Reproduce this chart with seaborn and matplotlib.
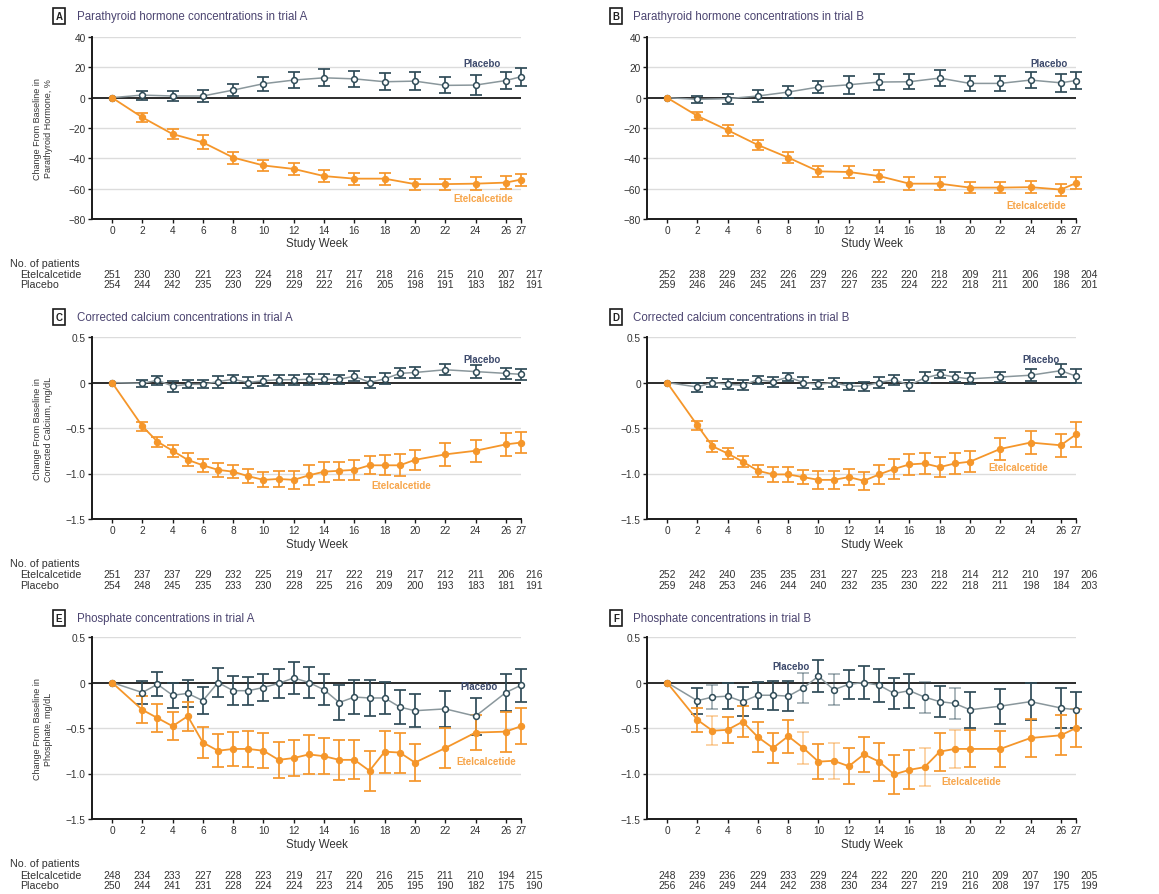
import numpy as np
import pandas as pd
import matplotlib
matplotlib.use("Agg")
import matplotlib.pyplot as plt
import seaborn as sns
from matplotlib.transforms import blended_transform_factory

sns.set_theme(style="white")
plt.rcParams['font.family'] = ['Liberation Sans', 'DejaVu Sans']
plt.rcParams['axes.unicode_minus'] = True

# ---------------- data ----------------
weeks_pth = [0, 2, 4, 6, 8, 10, 12, 14, 16, 18, 20, 22, 24, 26, 27]
weeks_lab = [0, 2, 3, 4, 5, 6, 7, 8, 9, 10, 11, 12, 13, 14, 15, 16, 17, 18, 19, 20, 22, 24, 26, 27]
table_weeks = [0, 2, 4, 6, 8, 10, 12, 14, 16, 18, 20, 22, 24, 26, 27]
xtick_labels = ["0", "2", "4", "6", "8", "10", "12", "14", "16", "18", "20", "22", "24", "26", "27"]

# Panel A: PTH trial A (% change)
a_etel = [0, -13, -24, -29.5, -39.5, -44.7, -47, -51.7, -53.4, -53.4, -57, -57, -56.7, -56, -54]
a_etel_err = [0, 3.0, 3.3, 4.6, 4.0, 3.8, 3.9, 3.8, 4.0, 4.0, 3.6, 3.6, 4.1, 4.5, 4.0]
a_plac = [0, 1.7, 1.1, 1.1, 5, 9.2, 11.6, 13.1, 12.4, 10.5, 10.9, 8.1, 8.3, 11.3, 13.8]
a_plac_err = [0, 3.0, 3.4, 3.8, 3.8, 4.6, 5.0, 5.5, 5.5, 5.5, 6.0, 5.3, 6.5, 5.8, 6.0]

# Panel B: PTH trial B
b_etel = [0, -12, -21.4, -31.2, -39.5, -48.6, -49, -51.7, -56.7, -56.7, -59.3, -59.3, -59, -60.6, -56.3]
b_etel_err = [0, 2.8, 3.6, 3.5, 3.6, 3.6, 3.8, 3.8, 4.1, 4.1, 3.6, 3.8, 3.8, 4.0, 4.1]
b_plac = [0, -1.1, -0.7, 1.1, 3.7, 7.0, 8.5, 10.3, 10.5, 12.9, 9.4, 9.4, 11.6, 9.8, 11.3]
b_plac_err = [0, 2.3, 3.3, 3.7, 3.9, 4.1, 5.8, 5.5, 5.1, 5.1, 5.2, 5.2, 5.5, 5.8, 5.5]

# Panel C: corrected calcium trial A (mg/dL)
c_etel = [0, -0.48, -0.65, -0.75, -0.85, -0.91, -0.96, -0.98, -1.03, -1.07, -1.06, -1.07, -1.02,
          -0.98, -0.97, -0.96, -0.91, -0.91, -0.91, -0.85, -0.79, -0.75, -0.68, -0.66]
c_etel_err = [0, 0.05, 0.055, 0.064, 0.073, 0.07, 0.078, 0.07, 0.076, 0.082, 0.085, 0.095, 0.11,
              0.11, 0.10, 0.11, 0.10, 0.11, 0.12, 0.11, 0.13, 0.12, 0.13, 0.12]
c_plac = [0, -0.01, 0.025, -0.04, -0.02, -0.02, 0.01, 0.035, 0.0, 0.02, 0.03, 0.03, 0.035,
          0.035, 0.035, 0.07, 0.0, 0.04, 0.10, 0.11, 0.14, 0.12, 0.10, 0.09]
c_plac_err = [0, 0.035, 0.05, 0.06, 0.045, 0.045, 0.065, 0.045, 0.06, 0.055, 0.055, 0.055, 0.06,
              0.055, 0.05, 0.055, 0.06, 0.06, 0.055, 0.065, 0.06, 0.07, 0.06, 0.06]

# Panel D: corrected calcium trial B
d_etel = [0, -0.47, -0.70, -0.78, -0.87, -0.97, -1.01, -1.01, -1.04, -1.07, -1.07, -1.04, -1.08,
          -1.01, -0.95, -0.90, -0.89, -0.93, -0.89, -0.87, -0.73, -0.66, -0.69, -0.57]
d_etel_err = [0, 0.05, 0.06, 0.06, 0.06, 0.064, 0.08, 0.08, 0.08, 0.10, 0.10, 0.09, 0.10,
              0.105, 0.11, 0.115, 0.11, 0.11, 0.12, 0.115, 0.125, 0.125, 0.125, 0.136]
d_plac = [0, -0.05, 0.0, -0.02, -0.03, 0.03, 0.01, 0.06, 0.0, -0.02, 0.0, -0.04, -0.04,
          0.0, 0.03, -0.03, 0.05, 0.09, 0.06, 0.04, 0.06, 0.08, 0.13, 0.07]
d_plac_err = [0, 0.05, 0.045, 0.055, 0.053, 0.045, 0.055, 0.042, 0.065, 0.05, 0.045, 0.04, 0.05,
              0.055, 0.053, 0.06, 0.06, 0.045, 0.05, 0.06, 0.055, 0.065, 0.07, 0.08]

# Panel E: phosphate trial A (mg/dL)
e_etel = [0, -0.30, -0.39, -0.48, -0.37, -0.66, -0.75, -0.73, -0.73, -0.75, -0.85, -0.83, -0.79,
          -0.81, -0.85, -0.85, -0.97, -0.76, -0.77, -0.88, -0.72, -0.55, -0.54, -0.48]
e_etel_err = [0, 0.15, 0.155, 0.155, 0.16, 0.175, 0.18, 0.185, 0.20, 0.195, 0.20, 0.20, 0.215,
              0.20, 0.22, 0.215, 0.22, 0.23, 0.22, 0.205, 0.215, 0.195, 0.22, 0.20]
e_plac = [0, -0.11, -0.02, -0.14, -0.12, -0.20, 0.0, -0.09, -0.09, -0.055, -0.01, 0.05, 0.0,
          -0.08, -0.22, -0.16, -0.17, -0.17, -0.27, -0.31, -0.29, -0.37, -0.11, -0.03]
e_plac_err = [0, 0.13, 0.13, 0.135, 0.15, 0.15, 0.16, 0.16, 0.155, 0.15, 0.16, 0.18, 0.165,
              0.17, 0.195, 0.185, 0.195, 0.18, 0.19, 0.18, 0.195, 0.205, 0.205, 0.18]

# Panel F: phosphate trial B
f_etel = [0, -0.41, -0.53, -0.52, -0.43, -0.60, -0.72, -0.59, -0.72, -0.87, -0.86, -0.92, -0.79,
          -0.87, -1.01, -0.96, -0.93, -0.76, -0.73, -0.73, -0.73, -0.61, -0.58, -0.50]
f_etel_err = [0, 0.135, 0.16, 0.145, 0.167, 0.163, 0.163, 0.18, 0.18, 0.19, 0.20, 0.20, 0.195,
              0.21, 0.21, 0.213, 0.205, 0.21, 0.207, 0.204, 0.20, 0.205, 0.218, 0.213]
f_plac = [0, -0.20, -0.16, -0.15, -0.21, -0.14, -0.14, -0.15, -0.06, 0.07, -0.08, -0.02, 0.0,
          -0.03, -0.12, -0.09, -0.16, -0.21, -0.23, -0.30, -0.26, -0.21, -0.28, -0.30]
f_plac_err = [0, 0.145, 0.133, 0.144, 0.16, 0.15, 0.158, 0.167, 0.167, 0.173, 0.171, 0.16, 0.182,
              0.18, 0.173, 0.185, 0.17, 0.173, 0.173, 0.195, 0.193, 0.20, 0.218, 0.195]

# Number of patients tables
a_n_etel = [251, 230, 230, 221, 223, 224, 218, 217, 217, 218, 216, 215, 210, 207, 217]
a_n_plac = [254, 244, 242, 235, 230, 229, 229, 222, 216, 205, 198, 191, 183, 182, 191]
b_n_etel = [252, 238, 229, 232, 226, 229, 226, 222, 220, 218, 209, 211, 206, 198, 204]
b_n_plac = [259, 246, 246, 245, 241, 237, 227, 235, 224, 222, 218, 211, 200, 186, 201]
c_n_etel = [251, 237, 237, 229, 232, 225, 219, 217, 222, 219, 217, 212, 211, 206, 216]
c_n_plac = [254, 248, 245, 235, 233, 230, 228, 225, 216, 209, 200, 193, 183, 181, 191]
d_n_etel = [252, 242, 240, 235, 235, 231, 227, 225, 223, 218, 214, 212, 210, 197, 206]
d_n_plac = [259, 248, 253, 246, 244, 240, 232, 235, 230, 222, 218, 211, 198, 184, 203]
e_n_etel = [248, 234, 233, 227, 228, 223, 219, 217, 220, 216, 215, 211, 210, 194, 215]
e_n_plac = [250, 244, 241, 231, 228, 224, 224, 223, 214, 205, 195, 190, 182, 175, 190]
f_n_etel = [248, 239, 236, 229, 233, 229, 224, 222, 220, 220, 210, 209, 207, 190, 205]
f_n_plac = [256, 246, 249, 244, 242, 238, 230, 234, 227, 219, 216, 208, 197, 175, 199]

titles = ["Parathyroid hormone concentrations in trial A",
          "Parathyroid hormone concentrations in trial B",
          "Corrected calcium concentrations in trial A",
          "Corrected calcium concentrations in trial B",
          "Phosphate concentrations in trial A",
          "Phosphate concentrations in trial B"]
letters = ["A", "B", "C", "D", "E", "F"]
ylabels = ["Change From Baseline in\nParathyroid Hormone, %",
           "Change From Baseline in\nCorrected Calcium, mg/dL",
           "Change From Baseline in\nPhosphate, mg/dL"]
pth_yticks = [40, 20, 0, -20, -40, -60, -80]
pth_ytick_labels = ["40", "20", "0", "\u221220", "\u221240", "\u221260", "\u221280"]
lab_yticks = [0.5, 0, -0.5, -1.0, -1.5]
lab_ytick_labels = ["0.5", "0", "\u22120.5", "\u22121.0", "\u22121.5"]

# ---------------- styles ----------------
ORANGE = "#f5962a"
ORANGE_TXT = "#f7a54a"
PLAC_DARK = "#2f4b57"
PLAC_LINE = "#8a979c"
PLAC_TXT = "#3d4a6c"
TITLE_C = "#4b4470"
TXT = "#333333"

W, H = 1159, 895
fig = plt.figure(figsize=(W / 100, H / 100), dpi=100)
fig.patch.set_facecolor("white")

def fx(px):
    return px / W

def fy(py):
    return 1 - py / H

panels = [
    dict(weeks=weeks_pth, etel=a_etel, eerr=a_etel_err, plac=a_plac, perr=a_plac_err,
         ne=a_n_etel, np_=a_n_plac, ylim=(-80, 40), yt=pth_yticks, ytl=pth_ytick_labels,
         plab=(24.4, 23), elab=(24.5, -66), faded=[]),
    dict(weeks=weeks_pth, etel=b_etel, eerr=b_etel_err, plac=b_plac, perr=b_plac_err,
         ne=b_n_etel, np_=b_n_plac, ylim=(-80, 40), yt=pth_yticks, ytl=pth_ytick_labels,
         plab=(25.2, 23), elab=(24.4, -71), faded=[]),
    dict(weeks=weeks_lab, etel=c_etel, eerr=c_etel_err, plac=c_plac, perr=c_plac_err,
         ne=c_n_etel, np_=c_n_plac, ylim=(-1.5, 0.5), yt=lab_yticks, ytl=lab_ytick_labels,
         plab=(24.4, 0.26), elab=(19.1, -1.13), faded=[]),
    dict(weeks=weeks_lab, etel=d_etel, eerr=d_etel_err, plac=d_plac, perr=d_plac_err,
         ne=d_n_etel, np_=d_n_plac, ylim=(-1.5, 0.5), yt=lab_yticks, ytl=lab_ytick_labels,
         plab=(24.7, 0.26), elab=(23.2, -0.93), faded=[]),
    dict(weeks=weeks_lab, etel=e_etel, eerr=e_etel_err, plac=e_plac, perr=e_plac_err,
         ne=e_n_etel, np_=e_n_plac, ylim=(-1.5, 0.5), yt=lab_yticks, ytl=lab_ytick_labels,
         plab=(24.2, -0.04), elab=(24.7, -0.86), faded=[]),
    dict(weeks=weeks_lab, etel=f_etel, eerr=f_etel_err, plac=f_plac, perr=f_plac_err,
         ne=f_n_etel, np_=f_n_plac, ylim=(-1.5, 0.5), yt=lab_yticks, ytl=lab_ytick_labels,
         plab=(8.2, 0.18), elab=(20.1, -1.08), faded=[3, 9, 11, 17, 19]),
]

col_left = [92, 647]
row_top = [38, 338, 638]
ax_w, ax_h = 429, 182
title_y = [17, 318, 619]
box_x = [59, 616]
title_x = [77, 633]
xlabel_y = [244, 545, 845]
table_y = [(264, 275, 285), (564, 575, 586), (864, 876, 886)]


def add_errorbars(ax, w, v, e, col, z, alpha=1.0):
    if not w:
        return
    eb = ax.errorbar(w, v, yerr=e, fmt="none", ecolor=col, elinewidth=1.25,
                     capsize=4.5, capthick=1.25, zorder=z, alpha=alpha)
    for ch in eb.get_children():
        ch.set_clip_on(False)


for i, p in enumerate(panels):
    r, c = divmod(i, 2)
    left = col_left[c]
    top = row_top[r]
    ax = fig.add_axes([fx(left), fy(top + ax_h), ax_w / W, ax_h / H])
    ax.set_facecolor("white")

    # grid lines
    for yv in p["yt"]:
        if yv != 0:
            ax.axhline(yv, color="#dcdcdc", lw=1.0, zorder=0)
    ax.axhline(0, color="#1a1a1a", lw=1.3, zorder=1)

    weeks = p["weeks"]
    # error bars
    for vals, errs, col, z in [(p["plac"], p["perr"], PLAC_DARK, 2), (p["etel"], p["eerr"], ORANGE, 3)]:
        w_n = [w for w in weeks[1:] if w not in p["faded"]]
        v_n = [v for w, v in zip(weeks[1:], vals[1:]) if w not in p["faded"]]
        e_n = [e for w, e in zip(weeks[1:], errs[1:]) if w not in p["faded"]]
        add_errorbars(ax, w_n, v_n, e_n, col, z)
        w_f = [w for w in weeks if w in p["faded"]]
        v_f = [v for w, v in zip(weeks, vals) if w in p["faded"]]
        e_f = [e for w, e in zip(weeks, errs) if w in p["faded"]]
        add_errorbars(ax, w_f, v_f, e_f, col, z, alpha=0.45)

    df_p = pd.DataFrame({"week": weeks, "value": p["plac"]})
    df_e = pd.DataFrame({"week": weeks, "value": p["etel"]})
    sns.lineplot(data=df_p, x="week", y="value", ax=ax, color=PLAC_LINE, lw=1.1,
                 marker="o", markersize=4.2, markerfacecolor="white",
                 markeredgecolor=PLAC_DARK, markeredgewidth=1.1, zorder=4, clip_on=False)
    sns.lineplot(data=df_e, x="week", y="value", ax=ax, color=ORANGE, lw=1.3,
                 marker="o", markersize=4.5, markerfacecolor=ORANGE,
                 markeredgecolor=ORANGE, markeredgewidth=0.8, zorder=5, clip_on=False)

    ax.set_xlim(-1.32, 27.0)
    ax.set_ylim(*p["ylim"])
    ax.set_xticks(table_weeks)
    ax.set_xticklabels(xtick_labels)
    ax.set_yticks(p["yt"])
    ax.set_yticklabels(p["ytl"])
    ax.set_xlabel("")
    ax.set_ylabel("")
    for s in ["top", "right"]:
        ax.spines[s].set_visible(False)
    for s in ["left", "bottom"]:
        ax.spines[s].set_color("#1a1a1a")
        ax.spines[s].set_linewidth(1.4)
    ax.tick_params(axis="both", which="both", direction="out", length=3, width=1.0,
                   color="#1a1a1a", labelsize=7.3, labelcolor=TXT, pad=1.5,
                   left=True, bottom=True)

    # series labels
    ax.text(p["plab"][0], p["plab"][1], "Placebo", color=PLAC_TXT, fontsize=7,
            fontweight="bold", ha="center", va="center", zorder=6)
    ax.text(p["elab"][0], p["elab"][1], "Etelcalcetide", color=ORANGE_TXT, fontsize=7,
            fontweight="bold", ha="center", va="center", zorder=6)

    # title with boxed letter
    fig.text(fx(box_x[c]), fy(title_y[r]), letters[i], fontsize=7, fontweight="bold",
             color="#222222", ha="center", va="center",
             bbox=dict(boxstyle="square,pad=0.3", fc="white", ec="#1a1a1a", lw=1.2))
    fig.text(fx(title_x[c]), fy(title_y[r]), titles[i], fontsize=8.3, color=TITLE_C,
             ha="left", va="center")

    # x label
    fig.text(fx(left + ax_w / 2 + 10), fy(xlabel_y[r]), "Study Week", fontsize=8.3,
             color=TXT, ha="center", va="center")

    # y label (left column only)
    if c == 0:
        fig.text(fx(43), fy(top + ax_h / 2), ylabels[r], fontsize=6.5, color=TXT,
                 rotation=90, ha="center", va="center", multialignment="center",
                 linespacing=1.15)

    # number at risk table
    tr = blended_transform_factory(ax.transData, fig.transFigure)
    ty = table_y[r]
    for wk, ne, npl in zip(table_weeks, p["ne"], p["np_"]):
        xx = 27.85 if wk == 27 else wk
        ax.text(xx, fy(ty[1]), str(ne), transform=tr, fontsize=7.5, color=TXT,
                ha="center", va="center", clip_on=False)
        ax.text(xx, fy(ty[2]), str(npl), transform=tr, fontsize=7.5, color=TXT,
                ha="center", va="center", clip_on=False)
    if c == 0:
        fig.text(fx(10), fy(ty[0]), "No. of patients", fontsize=7.7, color=TXT,
                 ha="left", va="center")
        fig.text(fx(20), fy(ty[1]), "Etelcalcetide", fontsize=7.7, color=TXT,
                 ha="left", va="center")
        fig.text(fx(20), fy(ty[2]), "Placebo", fontsize=7.7, color=TXT,
                 ha="left", va="center")

fig.savefig("out.png", dpi=100, facecolor="white")
